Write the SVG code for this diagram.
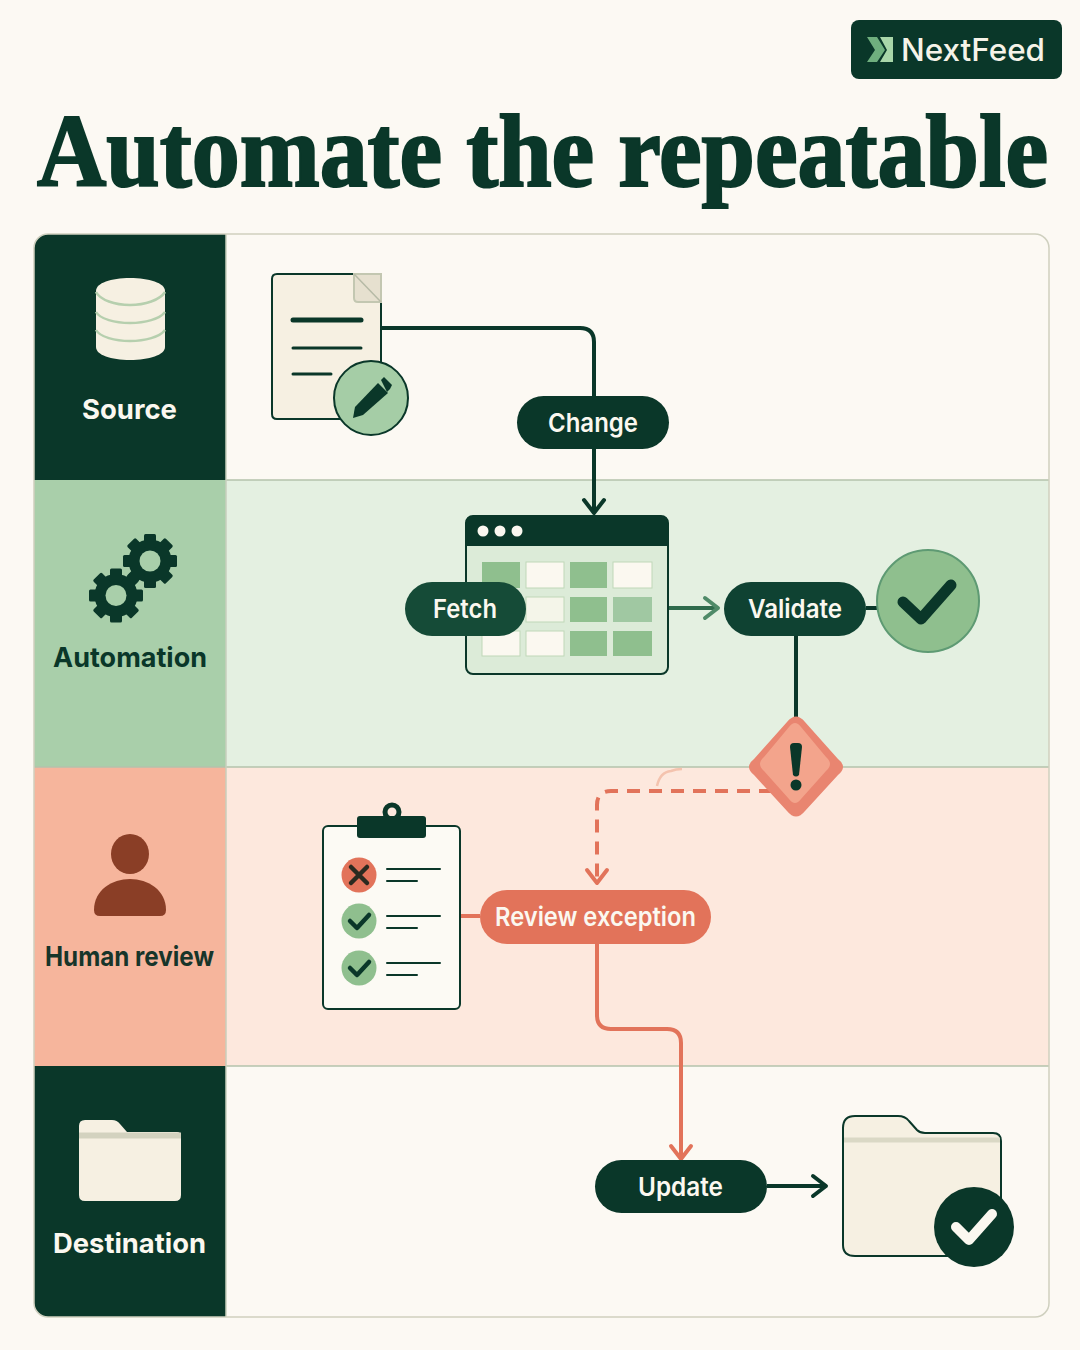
<svg xmlns="http://www.w3.org/2000/svg" width="1080" height="1350" viewBox="0 0 1080 1350">
<style>
.lbl{font-family:"Inter","Liberation Sans",sans-serif;font-weight:700;text-anchor:middle;font-size:27.500px}
.pilltx{font-family:"Inter","Liberation Sans",sans-serif;font-weight:600;text-anchor:middle;font-size:26px;fill:#FBF8F0}
.dk{fill:#0A3729}
.cr{fill:#F6F0E2}
.ln{fill:none;stroke:#0A3729;stroke-linecap:round}
.con{fill:none;stroke-width:4;stroke-linejoin:round}
.d{stroke:#0A3729}
.c{stroke:#E2735A}
.mark{fill:none;stroke:#0A3729;stroke-linecap:round;stroke-linejoin:round}
</style>
<defs>
<marker id="ad" markerUnits="userSpaceOnUse" markerWidth="28" markerHeight="28" refX="18" refY="14" orient="auto"><path d="M5 4 L18 14 L5 24" fill="none" stroke="#0A3729" stroke-width="4" stroke-linecap="round" stroke-linejoin="round"/></marker>
<marker id="ag" markerUnits="userSpaceOnUse" markerWidth="28" markerHeight="28" refX="18" refY="14" orient="auto"><path d="M5 4 L18 14 L5 24" fill="none" stroke="#4F8A68" stroke-width="4" stroke-linecap="round" stroke-linejoin="round"/></marker>
<marker id="ac" markerUnits="userSpaceOnUse" markerWidth="28" markerHeight="28" refX="18" refY="14" orient="auto"><path d="M5 4 L18 14 L5 24" fill="none" stroke="#E2735A" stroke-width="4" stroke-linecap="round" stroke-linejoin="round"/></marker>
<clipPath id="panel"><rect x="34" y="234" width="1015" height="1083" rx="14"/></clipPath>
<g id="gear"><circle r="16" fill="none" stroke="#0A3729" stroke-width="11"/><g class="dk"><rect x="-6" y="-27" width="12" height="54" rx="1.500"/><rect x="-6" y="-27" width="12" height="54" rx="1.500" transform="rotate(45)"/><rect x="-6" y="-27" width="12" height="54" rx="1.500" transform="rotate(90)"/><rect x="-6" y="-27" width="12" height="54" rx="1.500" transform="rotate(135)"/></g><circle r="10.500" fill="#A9CFAA"/></g>
</defs>
<rect width="1080" height="1350" fill="#FCF9F3"/>

<g id="logo">
<rect x="851" y="20" width="211" height="59" rx="8" class="dk"/>
<polygon points="867,37 877,37 885,50 877,62 867,62 875,50" fill="#6FAF7E"/>
<polygon points="880,37 893,37 893,62 880,62 887,50" fill="#A9D6A9"/>
<text x="973" y="61" font-family="Inter,'Liberation Sans',sans-serif" font-size="31" font-weight="500" fill="#F6F3E8" text-anchor="middle" textLength="144" lengthAdjust="spacingAndGlyphs">NextFeed</text>
</g>

<text id="title" transform="translate(37 186) scale(1 1.07)" font-family="'Liberation Serif',serif" font-size="96" font-weight="700" fill="#0A3729" stroke="#0A3729" stroke-width="2">Automate the repeatable</text>

<g id="lanes" clip-path="url(#panel)">
<rect x="34" y="234" width="1015" height="246" fill="#FCF9F3"/>
<rect x="226" y="480" width="823" height="287" fill="#E4F0E1"/>
<rect x="226" y="767" width="823" height="299" fill="#FDE8DD"/>
<rect x="226" y="1066" width="823" height="251" fill="#FCF9F3"/>
<rect x="34" y="234" width="192" height="246" fill="#0A3729"/>
<rect x="34" y="480" width="192" height="287" fill="#A9CFAA"/>
<rect x="34" y="767" width="192" height="299" fill="#F6B59C"/>
<rect x="34" y="1066" width="192" height="251" fill="#0A3729"/>
<path d="M226 480H1049M34 767H1049M226 1066H1049" stroke="#B4C2AC" stroke-width="1.500" fill="none"/>
<path d="M226 234V1317" stroke="#C9CFBD" stroke-width="1.500" fill="none"/>
</g>
<rect x="34" y="234" width="1015" height="1083" rx="14" fill="none" stroke="#CFD0BF" stroke-width="1.500"/>

<g id="connectors">
<path class="con d" d="M382 328H580Q594 328 594 342V396"/>
<path class="con d" d="M594 449V513" marker-end="url(#ad)"/>
<path class="con" stroke="#2F6B4C" d="M669 608H718" marker-end="url(#ag)"/>
<path class="con d" d="M866 608H878"/>
<path class="con d" d="M796 636V720"/>
<path class="con c" stroke-dasharray="13 9" d="M772 791H611Q597 791 597 805V883" marker-end="url(#ac)"/>
<path d="M657 786Q660 772 671 771Q676 769 682 769" fill="none" stroke="#F4C3AE" stroke-width="2.500"/>
<path class="con c" d="M461 916H480"/>
<path class="con c" d="M597 944V1015Q597 1029 611 1029H667Q681 1029 681 1043V1159" marker-end="url(#ac)"/>
<path class="con d" d="M767 1186H826" marker-end="url(#ad)"/>
</g>

<g id="lane-source">
<path class="cr" d="M96 291C96 283 111 278 130 278C149 278 165 283 165 291V347C165 355 149 360 130 360C111 360 96 355 96 347Z"/>
<path d="M96 292C100 300 115 305 130 305C145 305 160 300 165 292M96 312C100 319 115 323 130 323C145 323 160 319 165 312M96 330C100 337 115 341 130 341C145 341 160 337 165 330" fill="none" stroke="#B6CFAE" stroke-width="2.500"/>
<text x="129.500" y="419" class="lbl" fill="#FBF8F0" textLength="95" lengthAdjust="spacingAndGlyphs">Source</text>
</g>

<g id="lane-automation">
<use href="#gear" x="150" y="561"/>
<use href="#gear" x="116" y="595.500"/>
<text x="130" y="667" class="lbl" fill="#0A3729" textLength="154" lengthAdjust="spacingAndGlyphs">Automation</text>
</g>

<g id="lane-human">
<ellipse cx="130" cy="854" rx="19" ry="20" fill="#8A3E26"/>
<path d="M94 910C94 890 112 879 130 879C148 879 166 890 166 910Q166 916 160 916H100Q94 916 94 910Z" fill="#8A3E26"/>
<text x="129.500" y="966" class="lbl" fill="#17352A" textLength="169" lengthAdjust="spacingAndGlyphs">Human review</text>
</g>

<g id="lane-destination">
<path class="cr" d="M79 1126Q79 1120 85 1120H112Q117 1120 120 1124L127 1132H177Q181 1132 181 1136V1195Q181 1201 175 1201H85Q79 1201 79 1195Z"/>
<path d="M79 1135.500H181" stroke="#D3D2BF" stroke-width="6"/>
<text x="129.500" y="1253" class="lbl" fill="#FBF8F0" textLength="153" lengthAdjust="spacingAndGlyphs">Destination</text>
</g>

<g id="node-document">
<path d="M277 274H381V414Q381 419 376 419H277Q272 419 272 414V279Q272 274 277 274Z" class="cr" stroke="#0A3729" stroke-width="2"/>
<path d="M354 274H381V302H358Q354 302 354 298Z" fill="#E6E0CF" stroke="#C3C7B1" stroke-width="2"/>
<path d="M354 274L381 302" stroke="#B6BAA6" stroke-width="1.500"/>
<path class="ln" stroke-width="5" d="M293 320H361"/>
<path class="ln" stroke-width="3" d="M293 348H361"/>
<path class="ln" stroke-width="3" d="M293 374H331"/>
<circle cx="371" cy="398" r="37" fill="#A5CDA6" stroke="#0A3729" stroke-width="2"/>
<polygon class="dk" points="353,418 355,407 378,383 388,393 363,415"/>
<polygon class="dk" points="381,380 384,377 392,385 390,389 387,392"/>
</g>

<g id="node-change">
<rect x="517" y="396" width="152" height="53" rx="26.500" class="dk"/>
<text x="593" y="432" class="pilltx" textLength="90" lengthAdjust="spacingAndGlyphs">Change</text>
</g>

<g id="node-window">
<rect x="466" y="516" width="202" height="158" rx="7" fill="#DCEBD8" stroke="#0A3729" stroke-width="2"/>
<path class="dk" d="M473 516H661Q668 516 668 523V546H466V523Q466 516 473 516Z"/>
<circle cx="483" cy="531" r="5.500" fill="#FBF8F0"/><circle cx="500" cy="531" r="5.500" fill="#FBF8F0"/><circle cx="517" cy="531" r="5.500" fill="#FBF8F0"/>
<rect x="482" y="562" width="38" height="26" fill="#8FBF8E"/>
<rect x="526" y="562" width="38" height="26" fill="#FBF8F0" stroke="#BFD8B8"/>
<rect x="570" y="562" width="37" height="26" fill="#8FBF8E"/>
<rect x="613" y="562" width="39" height="26" fill="#FBF8F0" stroke="#BFD8B8"/>
<rect x="526" y="597" width="38" height="25" fill="#F4F5E9" stroke="#BFD8B8"/>
<rect x="570" y="597" width="37" height="25" fill="#8FBF8E"/>
<rect x="613" y="597" width="39" height="25" fill="#A0C8A2"/>
<rect x="482" y="631" width="38" height="25" fill="#FBF8F0" stroke="#BFD8B8"/>
<rect x="526" y="631" width="38" height="25" fill="#FBF8F0" stroke="#BFD8B8"/>
<rect x="570" y="631" width="37" height="25" fill="#8FBF8E"/>
<rect x="613" y="631" width="39" height="25" fill="#8FBF8E"/>
</g>

<g id="node-fetch">
<rect x="405" y="582" width="121" height="54" rx="27" fill="#154B37"/>
<text x="465" y="618" class="pilltx" textLength="64" lengthAdjust="spacingAndGlyphs">Fetch</text>
</g>

<g id="node-validate">
<rect x="724" y="582" width="142" height="54" rx="27" fill="#0F4232"/>
<text x="795" y="618" class="pilltx" textLength="94" lengthAdjust="spacingAndGlyphs">Validate</text>
</g>

<g id="node-ok">
<circle cx="928" cy="601" r="51" fill="#8FBF8E" stroke="#5E9A73" stroke-width="2"/>
<path class="mark" stroke-width="11" d="M903 602L921 619L951 585"/>
</g>

<g id="node-warning">
<path d="M787 722Q796 711 805 722L838 759Q848 767 838 775L805 811Q796 822 787 811L754 775Q744 767 754 759Z" fill="#E98570"/>
<path d="M789 727Q795 719 801 727L826 757Q834 764 826 771L801 799Q795 807 789 799L764 771Q756 764 764 757Z" fill="#F3A48C"/>
<path class="dk" d="M790 747Q790 743 794 743H798Q802 743 802 747L799 775Q796 778 793 775Z"/>
<circle cx="796" cy="785" r="5.500" class="dk"/>
</g>

<g id="node-checklist">
<rect x="323" y="826" width="137" height="183" rx="5" fill="#FCFAF4" stroke="#0A3729" stroke-width="2"/>
<circle cx="392" cy="812" r="7" fill="none" stroke="#0A3729" stroke-width="5"/>
<rect x="357" y="816" width="69" height="22" rx="3" class="dk"/>
<circle cx="359" cy="875" r="17.500" fill="#E2735A"/>
<path d="M351 867L367 883M367 867L351 883" stroke="#2A2A20" stroke-width="4.500" stroke-linecap="round"/>
<circle cx="359" cy="921" r="17.500" fill="#8FBF8E"/>
<path class="mark" stroke-width="4.500" d="M350 921L357 928L369 915"/>
<circle cx="359" cy="968" r="17.500" fill="#8FBF8E"/>
<path class="mark" stroke-width="4.500" d="M350 968L357 975L369 962"/>
<path class="ln" stroke-width="2" d="M387 869H440M387 881H417M387 916H440M387 928H417M387 963H440M387 975H417"/>
</g>

<g id="node-review">
<rect x="480" y="890" width="231" height="54" rx="27" fill="#E2735A"/>
<text x="595.500" y="926" class="pilltx" textLength="201" lengthAdjust="spacingAndGlyphs">Review exception</text>
</g>

<g id="node-update">
<rect x="595" y="1160" width="172" height="53" rx="26.500" class="dk"/>
<text x="680.500" y="1196" class="pilltx" textLength="85" lengthAdjust="spacingAndGlyphs">Update</text>
</g>

<g id="node-folder">
<path class="cr" stroke="#0A3729" stroke-width="2" d="M843 1128Q843 1116 855 1116H898Q905 1116 909 1121L917 1130Q920 1133 925 1133H993Q1001 1133 1001 1141V1245Q1001 1256 990 1256H855Q843 1256 843 1245Z"/>
<path d="M844 1140H1000" stroke="#DAD8C5" stroke-width="5"/>
<circle cx="974" cy="1227" r="40" class="dk"/>
<path fill="none" stroke="#FBF8F0" stroke-width="10" stroke-linecap="round" stroke-linejoin="round" d="M956 1227L969 1240L992 1214"/>
</g>
</svg>
